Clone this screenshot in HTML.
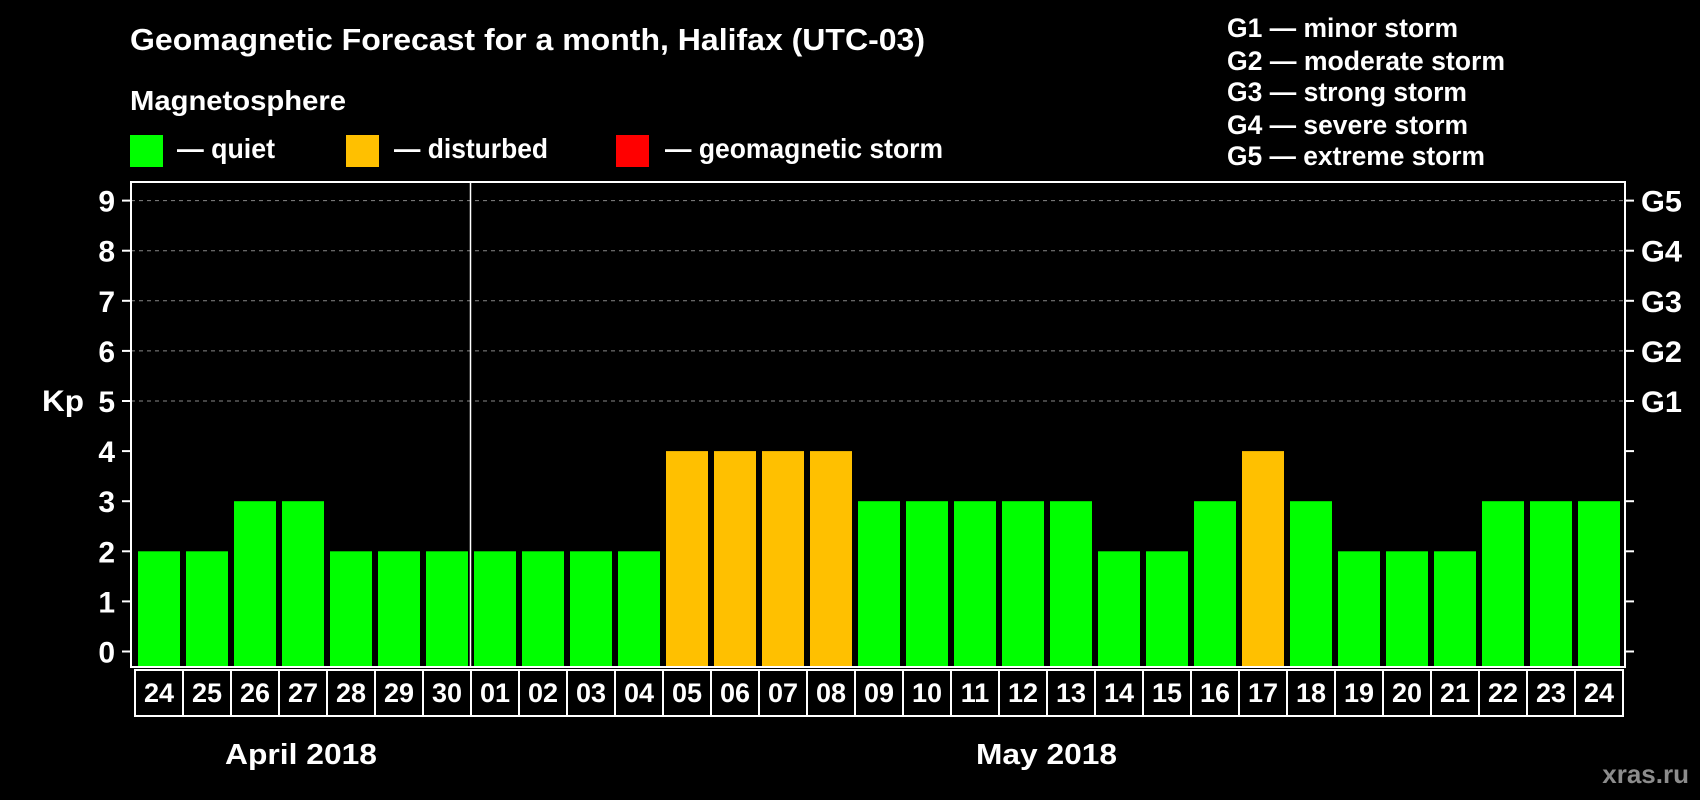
<!DOCTYPE html>
<html><head><meta charset="utf-8"><style>
html,body{margin:0;padding:0;background:#000;width:1700px;height:800px;overflow:hidden}
svg{display:block;font-family:"Liberation Sans",sans-serif;font-weight:bold}
</style></head><body>
<svg id="chart" width="1700" height="800" viewBox="0 0 1700 800">
<text x="130" y="50" font-size="31" fill="#fff" textLength="795" lengthAdjust="spacingAndGlyphs">Geomagnetic Forecast for a month, Halifax (UTC-03)</text>
<text x="130" y="110" font-size="28" fill="#fff" textLength="216" lengthAdjust="spacingAndGlyphs">Magnetosphere</text>
<rect x="130" y="135" width="33" height="32" fill="#00ff00"/>
<text x="177" y="158" font-size="28" fill="#fff" textLength="98" lengthAdjust="spacingAndGlyphs">— quiet</text>
<rect x="346" y="135" width="33" height="32" fill="#ffc000"/>
<text x="394" y="158" font-size="28" fill="#fff" textLength="154" lengthAdjust="spacingAndGlyphs">— disturbed</text>
<rect x="616" y="135" width="33" height="32" fill="#ff0000"/>
<text x="665" y="158" font-size="28" fill="#fff" textLength="278" lengthAdjust="spacingAndGlyphs">— geomagnetic storm</text>
<g fill="#fff" font-size="27">
<text x="1227" y="37" textLength="231" lengthAdjust="spacingAndGlyphs">G1 — minor storm</text>
<text x="1227" y="70" textLength="278" lengthAdjust="spacingAndGlyphs">G2 — moderate storm</text>
<text x="1227" y="101" textLength="240" lengthAdjust="spacingAndGlyphs">G3 — strong storm</text>
<text x="1227" y="134" textLength="241" lengthAdjust="spacingAndGlyphs">G4 — severe storm</text>
<text x="1227" y="165" textLength="258" lengthAdjust="spacingAndGlyphs">G5 — extreme storm</text>
</g>
<text x="42" y="411" font-size="30" fill="#fff" textLength="42" lengthAdjust="spacingAndGlyphs">Kp</text>
<text x="225" y="764" font-size="29" fill="#fff" textLength="152" lengthAdjust="spacingAndGlyphs">April 2018</text>
<text x="976" y="764" font-size="29" fill="#fff" textLength="141" lengthAdjust="spacingAndGlyphs">May 2018</text>
<text x="1689" y="783" font-size="26" fill="#8c8c8c" text-anchor="end">xras.ru</text>
</svg>
<script>
const days = ["24","25","26","27","28","29","30","01","02","03","04","05","06","07","08","09","10","11","12","13","14","15","16","17","18","19","20","21","22","23","24"];
const kpValues = [2,2,3,3,2,2,2,2,2,2,2,4,4,4,4,3,3,3,3,3,2,2,3,4,3,2,2,2,3,3,3];
const yTicks = [0,1,2,3,4,5,6,7,8,9];
const gLabels = ["G1","G2","G3","G4","G5"];
const gLevels = [5,6,7,8,9];

const svg = document.getElementById('chart');
const NS = 'http://www.w3.org/2000/svg';
const L = 131, R = 1625, T = 182, B = 667, slot = 48, x0 = 134;
const y = v => 651.5 - v * 50.1;
const x = i => x0 + i * slot;
function mk(tag, attrs, parent) {
  const e = document.createElementNS(NS, tag);
  for (const k in attrs) e.setAttribute(k, attrs[k]);
  (parent || svg).appendChild(e);
  return e;
}
const colorFor = v => v >= 5 ? '#ff0000' : (v >= 4 ? '#ffc000' : '#00ff00');

for (let v = 5; v <= 9; v++) {
  const g = mk('line', {x1: L, x2: R, y1: y(v), y2: y(v), stroke: '#888', 'stroke-width': 1, 'stroke-dasharray': '4,4'});
  
  
}
kpValues.forEach((v, i) => {
  const r = mk('rect', {x: x(i) + 4, y: y(v), width: 42, height: B - y(v), fill: colorFor(v)});
  
  
});
const fr = mk('rect', {x: L, y: T, width: R - L, height: B - T, fill: 'none', stroke: '#fff', 'stroke-width': 2});


const dv = mk('line', {x1: x(7) + 0.5, x2: x(7) + 0.5, y1: T, y2: B, stroke: '#fff', 'stroke-width': 1.5});


yTicks.forEach(v => {
  const t1 = mk('line', {x1: L - 9, x2: L, y1: y(v), y2: y(v), stroke: '#fff', 'stroke-width': 2});
  
  
  const t2 = mk('line', {x1: R, x2: R + 9, y1: y(v), y2: y(v), stroke: '#fff', 'stroke-width': 2});
  
  
  const tl = mk('text', {x: 115, y: y(v) + 11, 'font-size': 30, fill: '#fff', 'text-anchor': 'end'});
  tl.textContent = v;
  
  
});
gLabels.forEach((g, i) => {
  const t = mk('text', {x: 1641, y: y(gLevels[i]) + 11, 'font-size': 30, fill: '#fff', textLength: 41, lengthAdjust: 'spacingAndGlyphs'});
  t.textContent = g;
  
  
});
days.forEach((d, i) => {
  const bx = mk('rect', {x: x(i) + 1, y: 670, width: 48, height: 46, fill: 'none', stroke: '#fff', 'stroke-width': 2});
  
  
  const t = mk('text', {x: x(i) + 25, y: 702, 'font-size': 27, fill: '#fff', 'text-anchor': 'middle'});
  t.textContent = d;
  
  
});
</script>
</body></html>
